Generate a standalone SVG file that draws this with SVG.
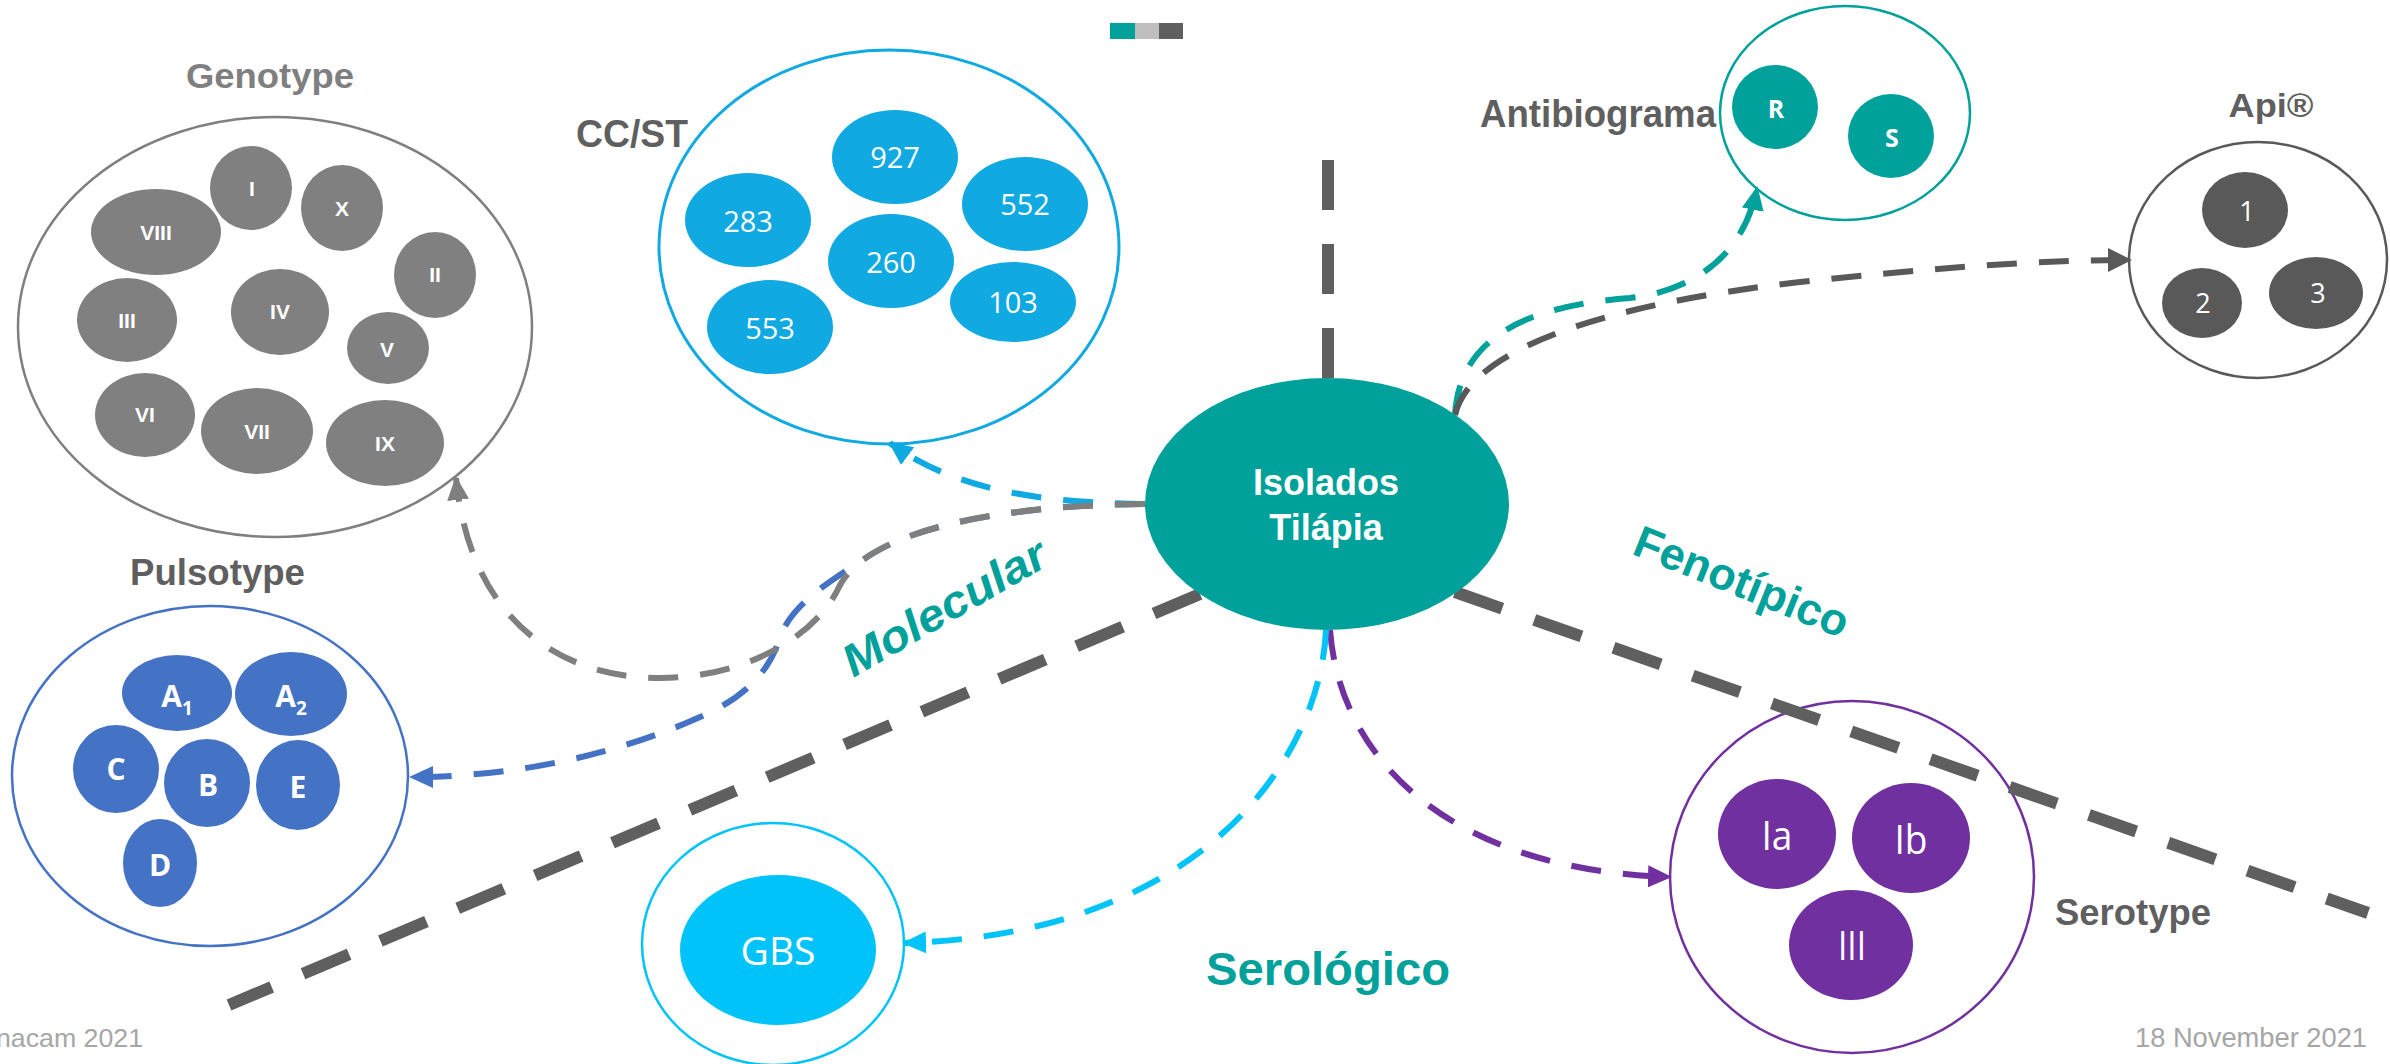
<svg xmlns="http://www.w3.org/2000/svg" width="2390" height="1064" viewBox="0 0 2390 1064">
<style>
.lbl{font-family:"Liberation Sans",Arial,sans-serif;font-weight:bold;fill:#5f5f5f}
.rn{font-family:"Liberation Sans",Arial,sans-serif;font-weight:bold;fill:#ffffff;font-size:21px;text-anchor:middle}
.num{font-family:"Open Sans",sans-serif;fill:#ffffff;text-anchor:middle}
.div{fill:none;stroke:#5f5f5f;stroke-width:12;stroke-dasharray:50 34}
.arr{fill:none;stroke-width:6;stroke-dasharray:30 22}
.sec{font-family:"Liberation Sans",Arial,sans-serif;font-weight:bold;fill:#00a19a}
.foot{font-family:"Liberation Sans",Arial,sans-serif;fill:#a6a6a6}
.gin{fill:#808080}
.cin{fill:#10a9e1}
.pin{fill:#4472c4}
</style>
<defs>
<marker id="m-gray" markerUnits="userSpaceOnUse" markerWidth="24" markerHeight="22" viewBox="0 0 24 22" refX="22" refY="11" orient="auto"><path d="M0,0 L24,11 L0,22 z" fill="#7f7f7f"/></marker>
<marker id="m-blue" markerUnits="userSpaceOnUse" markerWidth="24" markerHeight="22" viewBox="0 0 24 22" refX="22" refY="11" orient="auto"><path d="M0,0 L24,11 L0,22 z" fill="#4472c4"/></marker>
<marker id="m-lblue" markerUnits="userSpaceOnUse" markerWidth="24" markerHeight="22" viewBox="0 0 24 22" refX="22" refY="11" orient="auto"><path d="M0,0 L24,11 L0,22 z" fill="#10a9e1"/></marker>
<marker id="m-teal" markerUnits="userSpaceOnUse" markerWidth="24" markerHeight="22" viewBox="0 0 24 22" refX="22" refY="11" orient="auto"><path d="M0,0 L24,11 L0,22 z" fill="#00a19a"/></marker>
<marker id="m-dgray" markerUnits="userSpaceOnUse" markerWidth="24" markerHeight="24" viewBox="0 0 24 24" refX="22" refY="12" orient="auto"><path d="M0,0 L24,12 L0,24 z" fill="#595959"/></marker>
<marker id="m-cyan" markerUnits="userSpaceOnUse" markerWidth="24" markerHeight="22" viewBox="0 0 24 22" refX="22" refY="11" orient="auto"><path d="M0,0 L24,11 L0,22 z" fill="#00c4f9"/></marker>
<marker id="m-purple" markerUnits="userSpaceOnUse" markerWidth="24" markerHeight="22" viewBox="0 0 24 22" refX="22" refY="11" orient="auto"><path d="M0,0 L24,11 L0,22 z" fill="#7030a0"/></marker>
</defs>
<rect x="0" y="0" width="2390" height="1064" fill="#ffffff"/>

<g id="colorbar">
<rect x="1110" y="23" width="25" height="16" fill="#00a19a"/>
<rect x="1135" y="23" width="24" height="16" fill="#bfbfbf"/>
<rect x="1159" y="23" width="24" height="16" fill="#5f5f5f"/>
</g>

<g id="genotype">
<text class="lbl" x="270" y="88" font-size="35" style="fill:#7f7f7f" text-anchor="middle" textLength="168" lengthAdjust="spacingAndGlyphs">Genotype</text>
<ellipse cx="275" cy="327" rx="257" ry="210" fill="none" stroke="#7f7f7f" stroke-width="2.5"/>
<ellipse class="gin" cx="251" cy="188" rx="41" ry="42"/>
<ellipse class="gin" cx="342" cy="208" rx="41" ry="43"/>
<ellipse class="gin" cx="156" cy="232" rx="65" ry="43"/>
<ellipse class="gin" cx="435" cy="275" rx="41" ry="43"/>
<ellipse class="gin" cx="127" cy="320" rx="50" ry="42"/>
<ellipse class="gin" cx="280" cy="312" rx="49" ry="43"/>
<ellipse class="gin" cx="388" cy="348" rx="41" ry="36"/>
<ellipse class="gin" cx="145" cy="415" rx="50" ry="42"/>
<ellipse class="gin" cx="257" cy="431" rx="56" ry="43"/>
<ellipse class="gin" cx="385" cy="443" rx="59" ry="43"/>
<text class="rn" x="252" y="196">I</text>
<text class="rn" x="342" y="216">X</text>
<text class="rn" x="156" y="240">VIII</text>
<text class="rn" x="435" y="282">II</text>
<text class="rn" x="127" y="328">III</text>
<text class="rn" x="280" y="319">IV</text>
<text class="rn" x="387" y="357">V</text>
<text class="rn" x="145" y="422">VI</text>
<text class="rn" x="257" y="439">VII</text>
<text class="rn" x="385" y="451">IX</text>
</g>

<g id="ccst">
<text class="lbl" x="576" y="147" font-size="38" textLength="112" lengthAdjust="spacingAndGlyphs">CC/ST</text>
<ellipse cx="889" cy="247" rx="230" ry="197" fill="none" stroke="#10a9e1" stroke-width="3"/>
<ellipse class="cin" cx="895" cy="157" rx="63" ry="47"/>
<ellipse class="cin" cx="748" cy="220" rx="63" ry="47"/>
<ellipse class="cin" cx="1025" cy="204" rx="63" ry="47"/>
<ellipse class="cin" cx="891" cy="261" rx="63" ry="47"/>
<ellipse class="cin" cx="1013" cy="302" rx="63" ry="40"/>
<ellipse class="cin" cx="770" cy="327" rx="63" ry="47"/>
<text class="num" x="895" y="168" font-size="29">927</text>
<text class="num" x="748" y="232" font-size="29">283</text>
<text class="num" x="1025" y="215" font-size="29">552</text>
<text class="num" x="891" y="273" font-size="29">260</text>
<text class="num" x="1013" y="313" font-size="29">103</text>
<text class="num" x="770" y="339" font-size="29">553</text>
</g>

<g id="antibiograma">
<text class="lbl" x="1480" y="127" font-size="38" textLength="236" lengthAdjust="spacingAndGlyphs">Antibiograma</text>
<ellipse cx="1845" cy="113" rx="125" ry="107" fill="none" stroke="#00a19a" stroke-width="2.5"/>
<ellipse cx="1775" cy="107" rx="43" ry="42" fill="#00a19a"/>
<ellipse cx="1891" cy="136" rx="43" ry="42" fill="#00a19a"/>
<text class="num" x="1776" y="118" font-size="25" font-weight="bold">R</text>
<text class="num" x="1892" y="147" font-size="25" font-weight="bold">S</text>
</g>

<g id="api">
<text class="lbl" x="2271" y="117" font-size="33" text-anchor="middle" textLength="85" lengthAdjust="spacingAndGlyphs">Api®</text>
<ellipse cx="2258" cy="260" rx="129" ry="118" fill="none" stroke="#595959" stroke-width="2.5"/>
<ellipse cx="2245" cy="210" rx="43" ry="38" fill="#595959"/>
<ellipse cx="2202" cy="303" rx="40" ry="35" fill="#595959"/>
<ellipse cx="2316" cy="293" rx="47" ry="36" fill="#595959"/>
<text class="num" x="2247" y="221" font-size="27">1</text>
<text class="num" x="2203" y="313" font-size="27">2</text>
<text class="num" x="2318" y="303" font-size="27">3</text>
</g>

<g id="pulsotype">
<text class="lbl" x="130" y="585" font-size="36" textLength="175" lengthAdjust="spacingAndGlyphs">Pulsotype</text>
<ellipse cx="210" cy="776" rx="198" ry="170" fill="none" stroke="#4472c4" stroke-width="2.5"/>
<ellipse class="pin" cx="177" cy="693" rx="55" ry="38"/>
<ellipse class="pin" cx="291" cy="694" rx="56" ry="42"/>
<ellipse class="pin" cx="116" cy="769" rx="43" ry="44"/>
<ellipse class="pin" cx="207" cy="783" rx="43" ry="44"/>
<ellipse class="pin" cx="298" cy="785" rx="42" ry="45"/>
<ellipse class="pin" cx="160" cy="863" rx="37" ry="44"/>
<text class="num" x="177" y="707" font-size="30" font-weight="bold">A<tspan font-size="19" dy="8">1</tspan></text>
<text class="num" x="291" y="707" font-size="30" font-weight="bold">A<tspan font-size="19" dy="8">2</tspan></text>
<text class="num" x="116" y="780" font-size="30" font-weight="bold">C</text>
<text class="num" x="208" y="796" font-size="30" font-weight="bold">B</text>
<text class="num" x="298" y="798" font-size="30" font-weight="bold">E</text>
<text class="num" x="160" y="876" font-size="30" font-weight="bold">D</text>
</g>

<g id="gbs">
<ellipse cx="773" cy="944" rx="131" ry="121" fill="none" stroke="#00c4f9" stroke-width="2.5"/>
<ellipse cx="778" cy="950" rx="98" ry="75" fill="#00c4f9"/>
<text class="num" x="778" y="965" font-size="39">GBS</text>
</g>

<g id="serotype">
<ellipse cx="1852" cy="877" rx="182" ry="176" fill="none" stroke="#7030a0" stroke-width="2.5"/>
<ellipse cx="1777" cy="834" rx="59" ry="55" fill="#7030a0"/>
<ellipse cx="1911" cy="838" rx="59" ry="55" fill="#7030a0"/>
<ellipse cx="1851" cy="945" rx="62" ry="55" fill="#7030a0"/>
<text class="num" x="1777" y="850" font-size="40" textLength="31" lengthAdjust="spacingAndGlyphs">Ia</text>
<text class="num" x="1911" y="854" font-size="40" textLength="33" lengthAdjust="spacingAndGlyphs">Ib</text>
<text class="num" x="1852" y="960" font-size="40" textLength="28" lengthAdjust="spacingAndGlyphs">III</text>
<text class="lbl" x="2055" y="925" font-size="37" textLength="156" lengthAdjust="spacingAndGlyphs">Serotype</text>
</g>

<g id="connectors">
<path class="div" d="M1328,378 L1328,160"/>
<path class="div" d="M1200,594 L229,1005"/>
<path class="div" d="M1455,592 L2368,913"/>
<path class="arr" stroke="#4472c4" d="M1145,504 C1029,504.8 922.6,521 869.3,555.6 C830,581 790,605 779,640 C768,675 740,700 700,717 C620,753 520,777 411,777" marker-end="url(#m-blue)"/>
<path class="arr" stroke="#10a9e1" d="M1145,504 C1060,503 960,495 890,443" marker-end="url(#m-lblue)"/>
<path class="arr" stroke="#7f7f7f" d="M1145,504 C1000,505 870,530 840,585 C815,640 740,678 660,678 C560,678 470,620 456,478" marker-end="url(#m-gray)"/>
<path class="arr" stroke="#00a19a" d="M1455,415 C1460,330 1540,305 1630,298 C1700,290 1745,250 1757,188" marker-end="url(#m-teal)"/>
<path class="arr" stroke="#595959" stroke-width="7" d="M1455,415 C1470,350 1600,305 1800,282 C1950,266 2050,260 2130,260" marker-end="url(#m-dgray)"/>
<path class="arr" stroke="#7030a0" d="M1330,630 C1340,760 1450,870 1670,877" marker-end="url(#m-purple)"/>
<path class="arr" stroke="#00c4f9" d="M1326,630 C1320,760 1200,935 904,943" marker-end="url(#m-cyan)"/>
</g>

<g id="isolados">
<ellipse cx="1327" cy="504" rx="182" ry="126" fill="#00a19a"/>
<text class="num" x="1326" y="495" font-size="36" font-weight="bold" style="font-family:'Liberation Sans',Arial,sans-serif">Isolados</text>
<text class="num" x="1326" y="540" font-size="36" font-weight="bold" style="font-family:'Liberation Sans',Arial,sans-serif">Tilápia</text>
</g>

<g id="sections">
<text class="sec" x="952" y="621" font-size="45" font-style="italic" text-anchor="middle" textLength="228" lengthAdjust="spacingAndGlyphs" transform="rotate(-30 952 621)">Molecular</text>
<text class="sec" x="1736" y="596" font-size="45" text-anchor="middle" transform="rotate(22 1736 596)">Fenotípico</text>
<text class="sec" x="1206" y="985" font-size="46" textLength="244" lengthAdjust="spacingAndGlyphs">Serológico</text>
</g>

<g id="footer">
<text class="foot" x="-4" y="1047" font-size="26" textLength="147" lengthAdjust="spacingAndGlyphs">nacam 2021</text>
<text class="foot" x="2135" y="1047" font-size="28" textLength="232" lengthAdjust="spacingAndGlyphs">18 November 2021</text>
</g>
</svg>
